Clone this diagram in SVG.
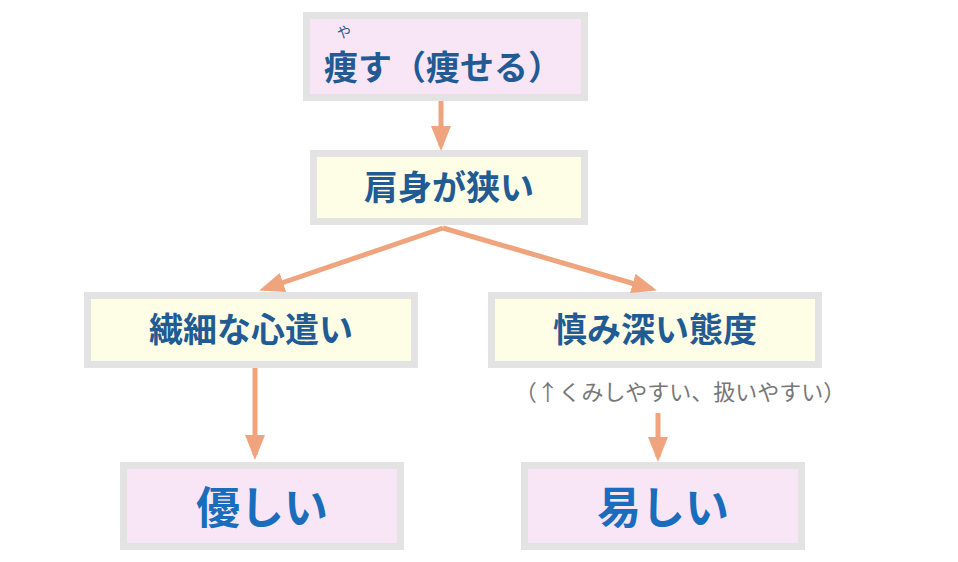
<svg xmlns="http://www.w3.org/2000/svg" width="958" height="562" viewBox="0 0 958 562">
<style>
.box{stroke:#e3e3e3;stroke-width:7}
.p{fill:#f8e6f6}.y{fill:#fefee6}
.t{font-family:"Noto Sans CJK JP",sans-serif;font-weight:bold;fill:#225b94;font-size:34px;text-anchor:middle}
.b{fill:#1a6dbc;font-size:44px}
.c{stroke:#f0a47e;stroke-width:5;fill:none}
</style>
<defs><marker id="a" markerWidth="5" markerHeight="4" refX="4" refY="2" orient="auto" markerUnits="strokeWidth"><path d="M0,0L5,2L0,4Z" fill="#f0a47e"/></marker></defs>
<rect width="958" height="562" fill="#fff"/>
<g id="n1"><rect class="box p" x="306.5" y="15.5" width="278" height="82"/>
<text x="344" y="37" font-family="Noto Sans CJK JP,sans-serif" font-size="14" fill="#225b94" text-anchor="middle">や</text>
<text class="t" x="443" y="80">痩す（痩せる）</text></g>
<g id="n2"><rect class="box y" x="313.5" y="153.5" width="271" height="68"/><text class="t" x="449" y="200">肩身が狭い</text></g>
<g id="n3"><rect class="box y" x="87.5" y="295.5" width="327" height="69"/><text class="t" x="251" y="342">繊細な心遣い</text></g>
<g id="n4"><rect class="box y" x="491.5" y="295.5" width="327" height="69"/><text class="t" x="655" y="342">慎み深い態度</text></g>
<text x="680" y="400" font-family="Noto Sans CJK JP,sans-serif" font-size="22" fill="#777" text-anchor="middle">（↑くみしやすい、扱いやすい）</text>
<g id="n5"><rect class="box p" x="123.5" y="465.5" width="277" height="81"/><text class="t b" x="262" y="524">優しい</text></g>
<g id="n6"><rect class="box p" x="524.5" y="465.5" width="277" height="81"/><text class="t b" x="663" y="524">易しい</text></g>
<g id="connectors">
<path class="c" d="M441,101V146" marker-end="url(#a)"/>
<path class="c" d="M443,228L264,289" marker-end="url(#a)"/>
<path class="c" d="M443,228L652,289" marker-end="url(#a)"/>
<path class="c" d="M255,368V455" marker-end="url(#a)"/>
<path class="c" d="M658,413V457" marker-end="url(#a)"/>
</g>
</svg>
